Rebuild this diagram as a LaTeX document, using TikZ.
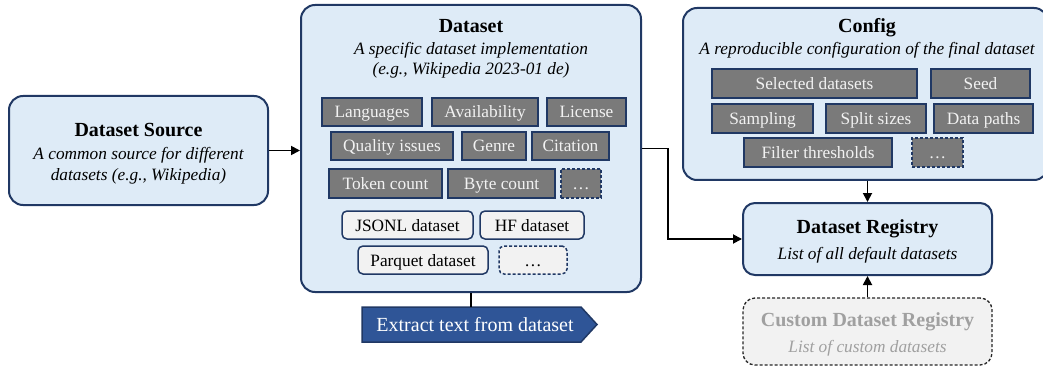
\documentclass[tikz,border=0pt]{standalone}
\usepackage{fontspec}
\setmainfont{Liberation Serif}
\usetikzlibrary{arrows.meta}
\definecolor{navy}{HTML}{203864}
\definecolor{lightblue}{HTML}{DEEBF7}
\definecolor{boxgray}{HTML}{7A7A7A}
\definecolor{textlight}{HTML}{F2F2F2}
\definecolor{paleg}{HTML}{F2F2F2}
\definecolor{extractblue}{HTML}{2F5597}
\definecolor{fadedtext}{HTML}{A0A0A0}
\newcommand\bodyfont{\fontsize{17.3}{20}\selectfont}
\newcommand\bigbodyfont{\fontsize{20}{24}\selectfont}
\newcommand\titlefont{\fontsize{20}{24}\selectfont\bfseries}
\newcommand\bx[7]{\node[#1, minimum width={(#5-#3)*1pt}, minimum height={(#6-#4)*1pt}] (#2) at ({(#3+#5)/2},{(#4+#6)/2}) {#7};}
\tikzset{
  bigbox/.style={draw=navy, line width=2pt, fill=lightblue, rounded corners=14pt, inner sep=0pt},
  regbox/.style={draw=navy, line width=2pt, fill=lightblue, rounded corners=12pt, inner sep=0pt},
  custombox/.style={draw=black!85, line width=1.3pt, dashed, dash pattern=on 3pt off 2pt, fill=paleg, rounded corners=12pt, inner sep=0pt},
  graybox/.style={draw=navy, line width=1.5pt, fill=boxgray, text=textlight, font=\bodyfont, inner sep=0pt, text height=12pt, text depth=0pt},
  graydots/.style={graybox, dashed, dash pattern=on 3pt off 2pt},
  whitebox/.style={draw=navy, line width=1.5pt, fill=paleg, text=black, font=\bodyfont, rounded corners=5pt, inner sep=0pt, text height=12pt, text depth=0pt},
  whitedots/.style={whitebox, dashed, dash pattern=on 3pt off 2pt},
  title/.style={font=\titlefont, anchor=base, inner sep=0pt},
  subtitle/.style={font=\bodyfont\itshape, anchor=base, inner sep=0pt},
  conn/.style={line width=1.8pt, draw=black},
  arr/.style={conn, -{Triangle[length=9pt,width=9pt]}},
}
\begin{document}
\begin{tikzpicture}[x=1pt,y=-1pt]
\useasboundingbox (0,0) rectangle (1043,366);
% containers
\bx{bigbox}{source}{9}{96}{268}{205}{}
\bx{bigbox}{dataset}{301}{5}{641}{292}{}
\bx{bigbox}{config}{683}{8}{1048}{180}{}
\bx{regbox}{registry}{743}{203}{992}{275}{}
\bx{custombox}{custom}{743}{298}{992}{365}{}
% source texts
\node[title] (srctitle) at (138.5,137) {Dataset Source};
\node[subtitle] (srcsub1) at (138.5,160) {A common source for different};
\node[subtitle] (srcsub2) at (138.5,180) {datasets (e.g., Wikipedia)};
% dataset texts
\node[title] (dstitle) at (471,33) {Dataset};
\node[subtitle] (dssub1) at (471,55) {A specific dataset implementation};
\node[subtitle] (dssub2) at (471,75) {(e.g., Wikipedia 2023-01 de)};
% dataset attribute boxes
\bx{graybox}{lang}{322}{98}{422}{126}{Languages}
\bx{graybox}{avail}{432}{98}{538}{126}{Availability}
\bx{graybox}{lic}{547}{98}{626}{126}{License}
\bx{graybox}{qual}{331}{132}{453}{160}{Quality issues}
\bx{graybox}{genre}{462}{132}{526}{160}{Genre}
\bx{graybox}{cit}{532}{132}{609}{160}{Citation}
\bx{graybox}{tok}{329}{169}{442}{198}{Token count}
\bx{graybox}{byte}{448}{169}{555}{198}{Byte count}
\bx{graydots}{dsdots}{561}{169}{601}{198}{\dots}
\bx{whitebox}{jsonl}{342}{211}{473}{239}{JSONL dataset}
\bx{whitebox}{hf}{480}{211}{584}{239}{HF dataset}
\bx{whitebox}{parquet}{358}{246}{488}{274}{Parquet dataset}
\bx{whitedots}{fmtdots}{499}{246}{567}{274}{\dots}
% config texts
\node[title] (cfgtitle) at (867,33) {Config};
\node[subtitle] (cfgsub) at (867,55) {A reproducible configuration of the final dataset};
\bx{graybox}{sel}{712}{69}{917}{98}{Selected datasets}
\bx{graybox}{seed}{931}{69}{1030}{98}{Seed}
\bx{graybox}{samp}{712}{104}{813}{133}{Sampling}
\bx{graybox}{split}{826}{104}{926}{133}{Split sizes}
\bx{graybox}{paths}{934}{104}{1033}{133}{Data paths}
\bx{graybox}{filt}{744}{138}{892}{167}{Filter thresholds}
\bx{graydots}{cfgdots}{912}{138}{963}{167}{\dots}
% registry texts
\node[title] (regtitle) at (867.5,233) {Dataset Registry};
\node[subtitle] (regsub) at (867.5,259) {List of all default datasets};
\node[title, text=fadedtext] (custitle) at (867.5,326) {Custom Dataset Registry};
\node[subtitle, text=fadedtext] (cussub) at (867.5,352) {List of custom datasets};
% extract signal
\draw[draw=navy, line width=1.5pt, fill=extractblue] (362,307) -- (581,307) -- (597,324.5) -- (581,342) -- (362,342) -- cycle;
\node[font=\bigbodyfont, text=white, inner sep=0pt, anchor=base] (extract) at (475,331) {Extract text from dataset};
\coordinate (extracttop) at (471,307);
% connectors
\draw[arr] (source.east) -- (source.east -| dataset.west);
\draw[conn] (dataset.south -| extracttop) -- (extracttop);
\draw[arr] (dataset.east) -- ++(26,0) |- (registry.west);
\draw[arr] (config.south -| registry.north) -- (registry.north);
\draw[arr] (custom.north) -- (registry.south);
\end{tikzpicture}
\end{document}
